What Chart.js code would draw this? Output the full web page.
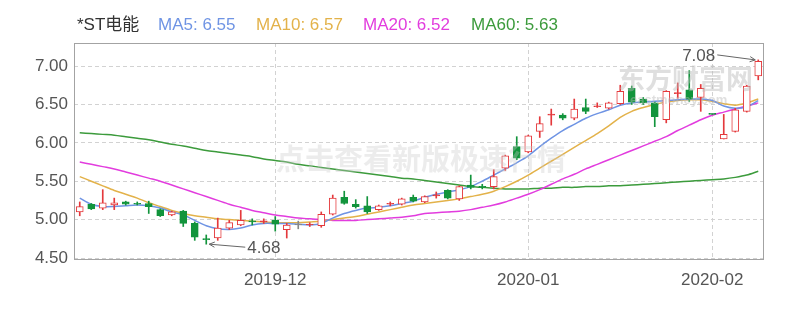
<!DOCTYPE html>
<html>
<head>
<meta charset="utf-8">
<script src="https://cdn.jsdelivr.net/npm/chart.js@4.4.1/dist/chart.umd.min.js"></script>
<style>
html, body { margin: 0; padding: 0; background: #fff; }
#wrap { position: relative; width: 801px; height: 315px; }
#kline { position: absolute; left: 0; top: 0; }
.lg { position: absolute; top: 15px; font: 17px "Liberation Sans", "Noto Sans CJK SC", sans-serif; line-height: 20px; white-space: nowrap; }
.wm { position: absolute; white-space: nowrap; pointer-events: none; font-family: "Noto Sans CJK SC", sans-serif; font-weight: bold; }
</style>
</head>
<body>
<div id="wrap">
  <canvas id="kline" width="801" height="315"></canvas>
  <div class="lg" id="lgName" style="left:77px;color:#333"></div>
  <div class="lg" id="lgMa5" style="left:158px;color:#6f94e4"></div>
  <div class="lg" id="lgMa10" style="left:256px;color:#e3b24a"></div>
  <div class="lg" id="lgMa20" style="left:363px;color:#e23cde"></div>
  <div class="lg" id="lgMa60" style="left:471px;color:#3c9b3c"></div>
  <div class="wm" style="left:276px;top:136px;font-size:29px;color:rgba(200,200,200,0.35)">点击查看新版极速行情</div>
  <div class="wm" style="left:618px;top:58px;font-size:27px;color:rgba(185,185,185,0.45)">东方财富网</div>
  <div class="wm" style="left:630px;top:92px;font-size:13px;font-family:'Liberation Sans';color:rgba(185,185,185,0.45)">eastmoney.com</div>
</div>
<script>
const stockName = '*ST电能';

const dates = [
    '2019-11-07', '2019-11-08', '2019-11-11', '2019-11-12', '2019-11-13', '2019-11-14', '2019-11-15',
    '2019-11-18', '2019-11-19', '2019-11-20', '2019-11-21', '2019-11-22', '2019-11-25', '2019-11-26',
    '2019-11-27', '2019-11-28', '2019-11-29',
    '2019-12-02', '2019-12-03', '2019-12-04', '2019-12-05', '2019-12-06', '2019-12-09', '2019-12-10',
    '2019-12-11', '2019-12-12', '2019-12-13', '2019-12-16', '2019-12-17', '2019-12-18', '2019-12-19',
    '2019-12-20', '2019-12-23', '2019-12-24', '2019-12-25', '2019-12-26', '2019-12-27', '2019-12-30',
    '2019-12-31',
    '2020-01-02', '2020-01-03', '2020-01-06', '2020-01-07', '2020-01-08', '2020-01-09', '2020-01-10',
    '2020-01-13', '2020-01-14', '2020-01-15', '2020-01-16', '2020-01-17', '2020-01-20', '2020-01-21',
    '2020-01-22', '2020-01-23',
    '2020-02-03', '2020-02-04', '2020-02-05', '2020-02-06', '2020-02-07'
];

const open = [5.10, 5.20, 5.15, 5.19, 5.23, 5.21, 5.21, 5.13, 5.06, 5.11, 4.95, 4.75, 4.76, 4.89, 4.93,
    4.98, 4.97, 4.99, 4.87, 4.93, 4.93, 4.92, 5.07, 5.29, 5.20, 5.18, 5.13, 5.20, 5.20, 5.29,
    5.23, 5.31, 5.38, 5.27, 5.45, 5.43, 5.43, 5.67, 5.95, 5.88, 6.15, 6.36, 6.36, 6.32, 6.46,
    6.47, 6.45, 6.51, 6.71, 6.57, 6.52, 6.30, 6.64, 6.69, 6.59, 6.37, 6.05, 6.15, 6.41, 6.87];
const high = [5.23, 5.21, 5.39, 5.28, 5.24, 5.23, 5.24, 5.14, 5.11, 5.12, 4.97, 4.80, 5.02, 4.99, 5.12,
    5.01, 5.01, 5.04, 4.95, 4.98, 4.96, 5.10, 5.32, 5.37, 5.26, 5.30, 5.19, 5.23, 5.28, 5.32,
    5.31, 5.36, 5.39, 5.44, 5.58, 5.46, 5.65, 5.84, 6.08, 6.10, 6.34, 6.44, 6.38, 6.57, 6.57,
    6.52, 6.53, 6.75, 6.74, 6.59, 6.53, 6.68, 6.78, 6.94, 6.76, 6.37, 6.37, 6.45, 6.75, 7.08];
const low = [5.05, 5.13, 5.13, 5.13, 5.19, 5.19, 5.08, 5.04, 5.05, 4.91, 4.73, 4.68, 4.73, 4.87, 4.92,
    4.93, 4.95, 4.85, 4.76, 4.88, 4.91, 4.90, 5.06, 5.20, 5.15, 5.08, 5.12, 5.18, 5.19, 5.23,
    5.22, 5.28, 5.27, 5.25, 5.40, 5.40, 5.40, 5.64, 5.78, 5.87, 6.07, 6.23, 6.30, 6.30, 6.38,
    6.46, 6.44, 6.50, 6.50, 6.50, 6.21, 6.26, 6.58, 6.54, 6.41, 6.37, 6.05, 6.14, 6.40, 6.82];
const close = [5.17, 5.14, 5.22, 5.22, 5.20, 5.20, 5.17, 5.05, 5.10, 4.95, 4.77, 4.74, 4.89, 4.96, 4.99,
    4.97, 4.98, 4.94, 4.93, 4.93, 4.94, 5.07, 5.28, 5.21, 5.17, 5.10, 5.18, 5.21, 5.27, 5.24,
    5.30, 5.32, 5.28, 5.43, 5.42, 5.42, 5.56, 5.83, 5.80, 6.09, 6.25, 6.37, 6.32, 6.44, 6.41,
    6.48, 6.52, 6.67, 6.53, 6.52, 6.34, 6.67, 6.65, 6.57, 6.71, 6.37, 6.11, 6.43, 6.74, 7.06];

// moving averages
const ma5 = [5.28, 5.20, 5.17, 5.17, 5.18, 5.19, 5.18, 5.15, 5.10, 5.06, 4.99, 4.92, 4.88, 4.87, 4.89,
    4.93, 4.95, 4.95, 4.95, 4.94, 4.93, 4.95, 5.02, 5.08, 5.12, 5.15, 5.16, 5.18, 5.21, 5.24,
    5.29, 5.33, 5.36, 5.39, 5.43, 5.50, 5.58, 5.66, 5.74, 5.83, 5.95, 6.06, 6.16, 6.24, 6.32,
    6.38, 6.43, 6.49, 6.52, 6.53, 6.54, 6.55, 6.56, 6.57, 6.57, 6.55, 6.48, 6.45, 6.47, 6.55];
const ma10 = [5.56, 5.50, 5.44, 5.38, 5.33, 5.28, 5.22, 5.17, 5.12, 5.08, 5.05, 5.03, 5.01, 5.00, 4.99,
    4.98, 4.97, 4.96, 4.96, 4.96, 4.97, 4.98, 5.00, 5.02, 5.04, 5.07, 5.10, 5.13, 5.16, 5.19,
    5.21, 5.23, 5.25, 5.27, 5.30, 5.33, 5.37, 5.43, 5.50, 5.58, 5.67, 5.76, 5.85, 5.94, 6.03,
    6.12, 6.22, 6.33, 6.41, 6.46, 6.50, 6.53, 6.55, 6.56, 6.56, 6.54, 6.51, 6.49, 6.52, 6.57];
const ma20 = [5.75, 5.72, 5.69, 5.66, 5.62, 5.58, 5.54, 5.50, 5.45, 5.40, 5.35, 5.30, 5.25, 5.20, 5.16,
    5.12, 5.09, 5.06, 5.04, 5.02, 5.01, 5.00, 4.99, 4.99, 4.99, 5.00, 5.01, 5.02, 5.03, 5.05,
    5.08, 5.09, 5.10, 5.11, 5.13, 5.16, 5.19, 5.23, 5.28, 5.33, 5.39, 5.46, 5.53, 5.59, 5.66,
    5.72, 5.78, 5.84, 5.90, 5.96, 6.02, 6.08, 6.16, 6.23, 6.30, 6.36, 6.40, 6.44, 6.48, 6.52];
const ma60 = [6.13, 6.12, 6.11, 6.10, 6.08, 6.06, 6.04, 6.01, 5.98, 5.96, 5.93, 5.90, 5.88, 5.86, 5.84,
    5.82, 5.79, 5.77, 5.75, 5.72, 5.70, 5.68, 5.66, 5.64, 5.62, 5.60, 5.58, 5.56, 5.54, 5.53,
    5.51, 5.49, 5.47, 5.45, 5.43, 5.42, 5.41, 5.40, 5.40, 5.40, 5.41, 5.41, 5.42, 5.42, 5.43,
    5.43, 5.44, 5.44, 5.45, 5.46, 5.47, 5.48, 5.49, 5.50, 5.51, 5.52, 5.53, 5.55, 5.58, 5.63];

const yTicks = [4.5, 5.0, 5.5, 6.0, 6.5, 7.0];

const UP = '#e4393c', DOWN = '#12943c', FLAT = '#888888';
const GRID = '#d2d2d2';

function candleColor(i) {
    if (close[i] > open[i]) return UP;
    if (close[i] < open[i]) return DOWN;
    if (i > 0 && close[i] > close[i - 1]) return UP;
    if (i > 0 && close[i] < close[i - 1]) return DOWN;
    return FLAT;
}

// month label on the first trading day of each new month
function monthLabel(i) {
    if (i <= 0 || i >= dates.length) return '';
    const m = dates[i].slice(0, 7);
    return m !== dates[i - 1].slice(0, 7) ? m : '';
}

document.getElementById('lgName').textContent = stockName;
document.getElementById('lgMa5').textContent = 'MA5: ' + ma5[ma5.length - 1].toFixed(2);
document.getElementById('lgMa10').textContent = 'MA10: ' + ma10[ma10.length - 1].toFixed(2);
document.getElementById('lgMa20').textContent = 'MA20: ' + ma20[ma20.length - 1].toFixed(2);
document.getElementById('lgMa60').textContent = 'MA60: ' + ma60[ma60.length - 1].toFixed(2);

// frame round the plot area
const frame = {
    id: 'frame',
    beforeDatasetsDraw(chart) {
        const { ctx, chartArea: a } = chart;
        ctx.save();
        ctx.strokeStyle = '#a3a3a3';
        ctx.lineWidth = 1;
        ctx.strokeRect(Math.round(a.left) + 0.5, Math.round(a.top) + 0.5,
            Math.round(a.right - a.left) - 1, Math.round(a.bottom - a.top) - 1);
        ctx.restore();
    }
};

// highest high / lowest low markers
const extremes = {
    id: 'extremes',
    afterDatasetsDraw(chart) {
        const { ctx, scales: { x, y } } = chart;
        const hi = high.indexOf(Math.max(...high));
        const lo = low.indexOf(Math.min(...low));
        ctx.save();
        ctx.font = '17px "Liberation Sans", sans-serif';
        ctx.fillStyle = '#555';
        ctx.strokeStyle = '#666';
        ctx.lineWidth = 1;

        const arrow = (x1, y1, x2, y2) => {
            ctx.beginPath();
            ctx.moveTo(x1, y1);
            ctx.lineTo(x2, y2);
            ctx.stroke();
            const ang = Math.atan2(y2 - y1, x2 - x1);
            ctx.beginPath();
            ctx.moveTo(x2, y2);
            ctx.lineTo(x2 - 6 * Math.cos(ang - 0.45), y2 - 6 * Math.sin(ang - 0.45));
            ctx.moveTo(x2, y2);
            ctx.lineTo(x2 - 6 * Math.cos(ang + 0.45), y2 - 6 * Math.sin(ang + 0.45));
            ctx.stroke();
        };

        const hx = x.getPixelForValue(hi), hy = y.getPixelForValue(high[hi]);
        ctx.textAlign = 'right';
        ctx.textBaseline = 'middle';
        ctx.fillText(high[hi].toFixed(2), hx - 43, hy - 4);
        arrow(hx - 41, hy - 5, hx - 3, hy);

        const lx = x.getPixelForValue(lo), ly = y.getPixelForValue(low[lo]);
        ctx.textAlign = 'left';
        ctx.fillText(low[lo].toFixed(2), lx + 41, ly + 4);
        arrow(lx + 39, ly + 3, lx + 3, ly);
        ctx.restore();
    }
};

new Chart(document.getElementById('kline'), {
    type: 'bar',
    data: {
        labels: dates,
        datasets: [{
            label: 'body',
            data: open.map((o, i) => [o, close[i]]),
            backgroundColor: ctx => {
                const i = ctx.dataIndex;
                const c = candleColor(i);
                return (c === UP && Math.abs(close[i] - open[i]) > 0.015) ? '#ffffff' : c;
            },
            borderColor: ctx => candleColor(ctx.dataIndex),
            borderWidth: 1,
            borderSkipped: false,
            barThickness: 7,
            minBarLength: 1,
            grouped: false,
            order: 0
        }, {
            label: 'wick',
            data: low.map((l, i) => [l, high[i]]),
            backgroundColor: ctx => candleColor(ctx.dataIndex),
            borderWidth: 0,
            barThickness: 1,
            grouped: false,
            order: 1
        }, {
            type: 'line', label: 'MA5', data: ma5,
            borderColor: '#6f94e4', borderWidth: 1.5, pointRadius: 0, tension: 0.3, order: 2
        }, {
            type: 'line', label: 'MA10', data: ma10,
            borderColor: '#e3b24a', borderWidth: 1.5, pointRadius: 0, tension: 0.3, order: 2
        }, {
            type: 'line', label: 'MA20', data: ma20,
            borderColor: '#e23cde', borderWidth: 1.5, pointRadius: 0, tension: 0.3, order: 2
        }, {
            type: 'line', label: 'MA60', data: ma60,
            borderColor: '#3c9b3c', borderWidth: 1.5, pointRadius: 0, tension: 0.3, order: 2
        }]
    },
    options: {
        responsive: false,
        animation: false,
        layout: { padding: { top: 43, right: 37, left: 0, bottom: 0 } },
        plugins: {
            legend: { display: false },
            tooltip: { enabled: false }
        },
        scales: {
            x: {
                type: 'category',
                offset: true,
                grid: {
                    offset: false,
                    drawTicks: false,
                    color: ctx => monthLabel(ctx.index) ? GRID : 'rgba(0,0,0,0)'
                },
                border: { display: false, dash: [4, 3] },
                ticks: {
                    autoSkip: false,
                    maxRotation: 0,
                    padding: 10,
                    color: '#555',
                    font: { family: '"Liberation Sans", sans-serif', size: 17 },
                    callback: (v, i) => monthLabel(i)
                },
                afterFit: s => { s.height = 55; }
            },
            y: {
                min: 4.474,
                max: 7.30,
                afterBuildTicks: s => { s.ticks = yTicks.map(v => ({ value: v })); },
                grid: { color: GRID, drawTicks: false },
                border: { display: false, dash: [4, 3] },
                ticks: {
                    padding: 6,
                    color: '#555',
                    font: { family: '"Liberation Sans", sans-serif', size: 17 },
                    callback: v => Number(v).toFixed(2)
                },
                afterFit: s => { s.width = 74; }
            }
        }
    },
    plugins: [frame, extremes]
});
</script>
</body>
</html>
